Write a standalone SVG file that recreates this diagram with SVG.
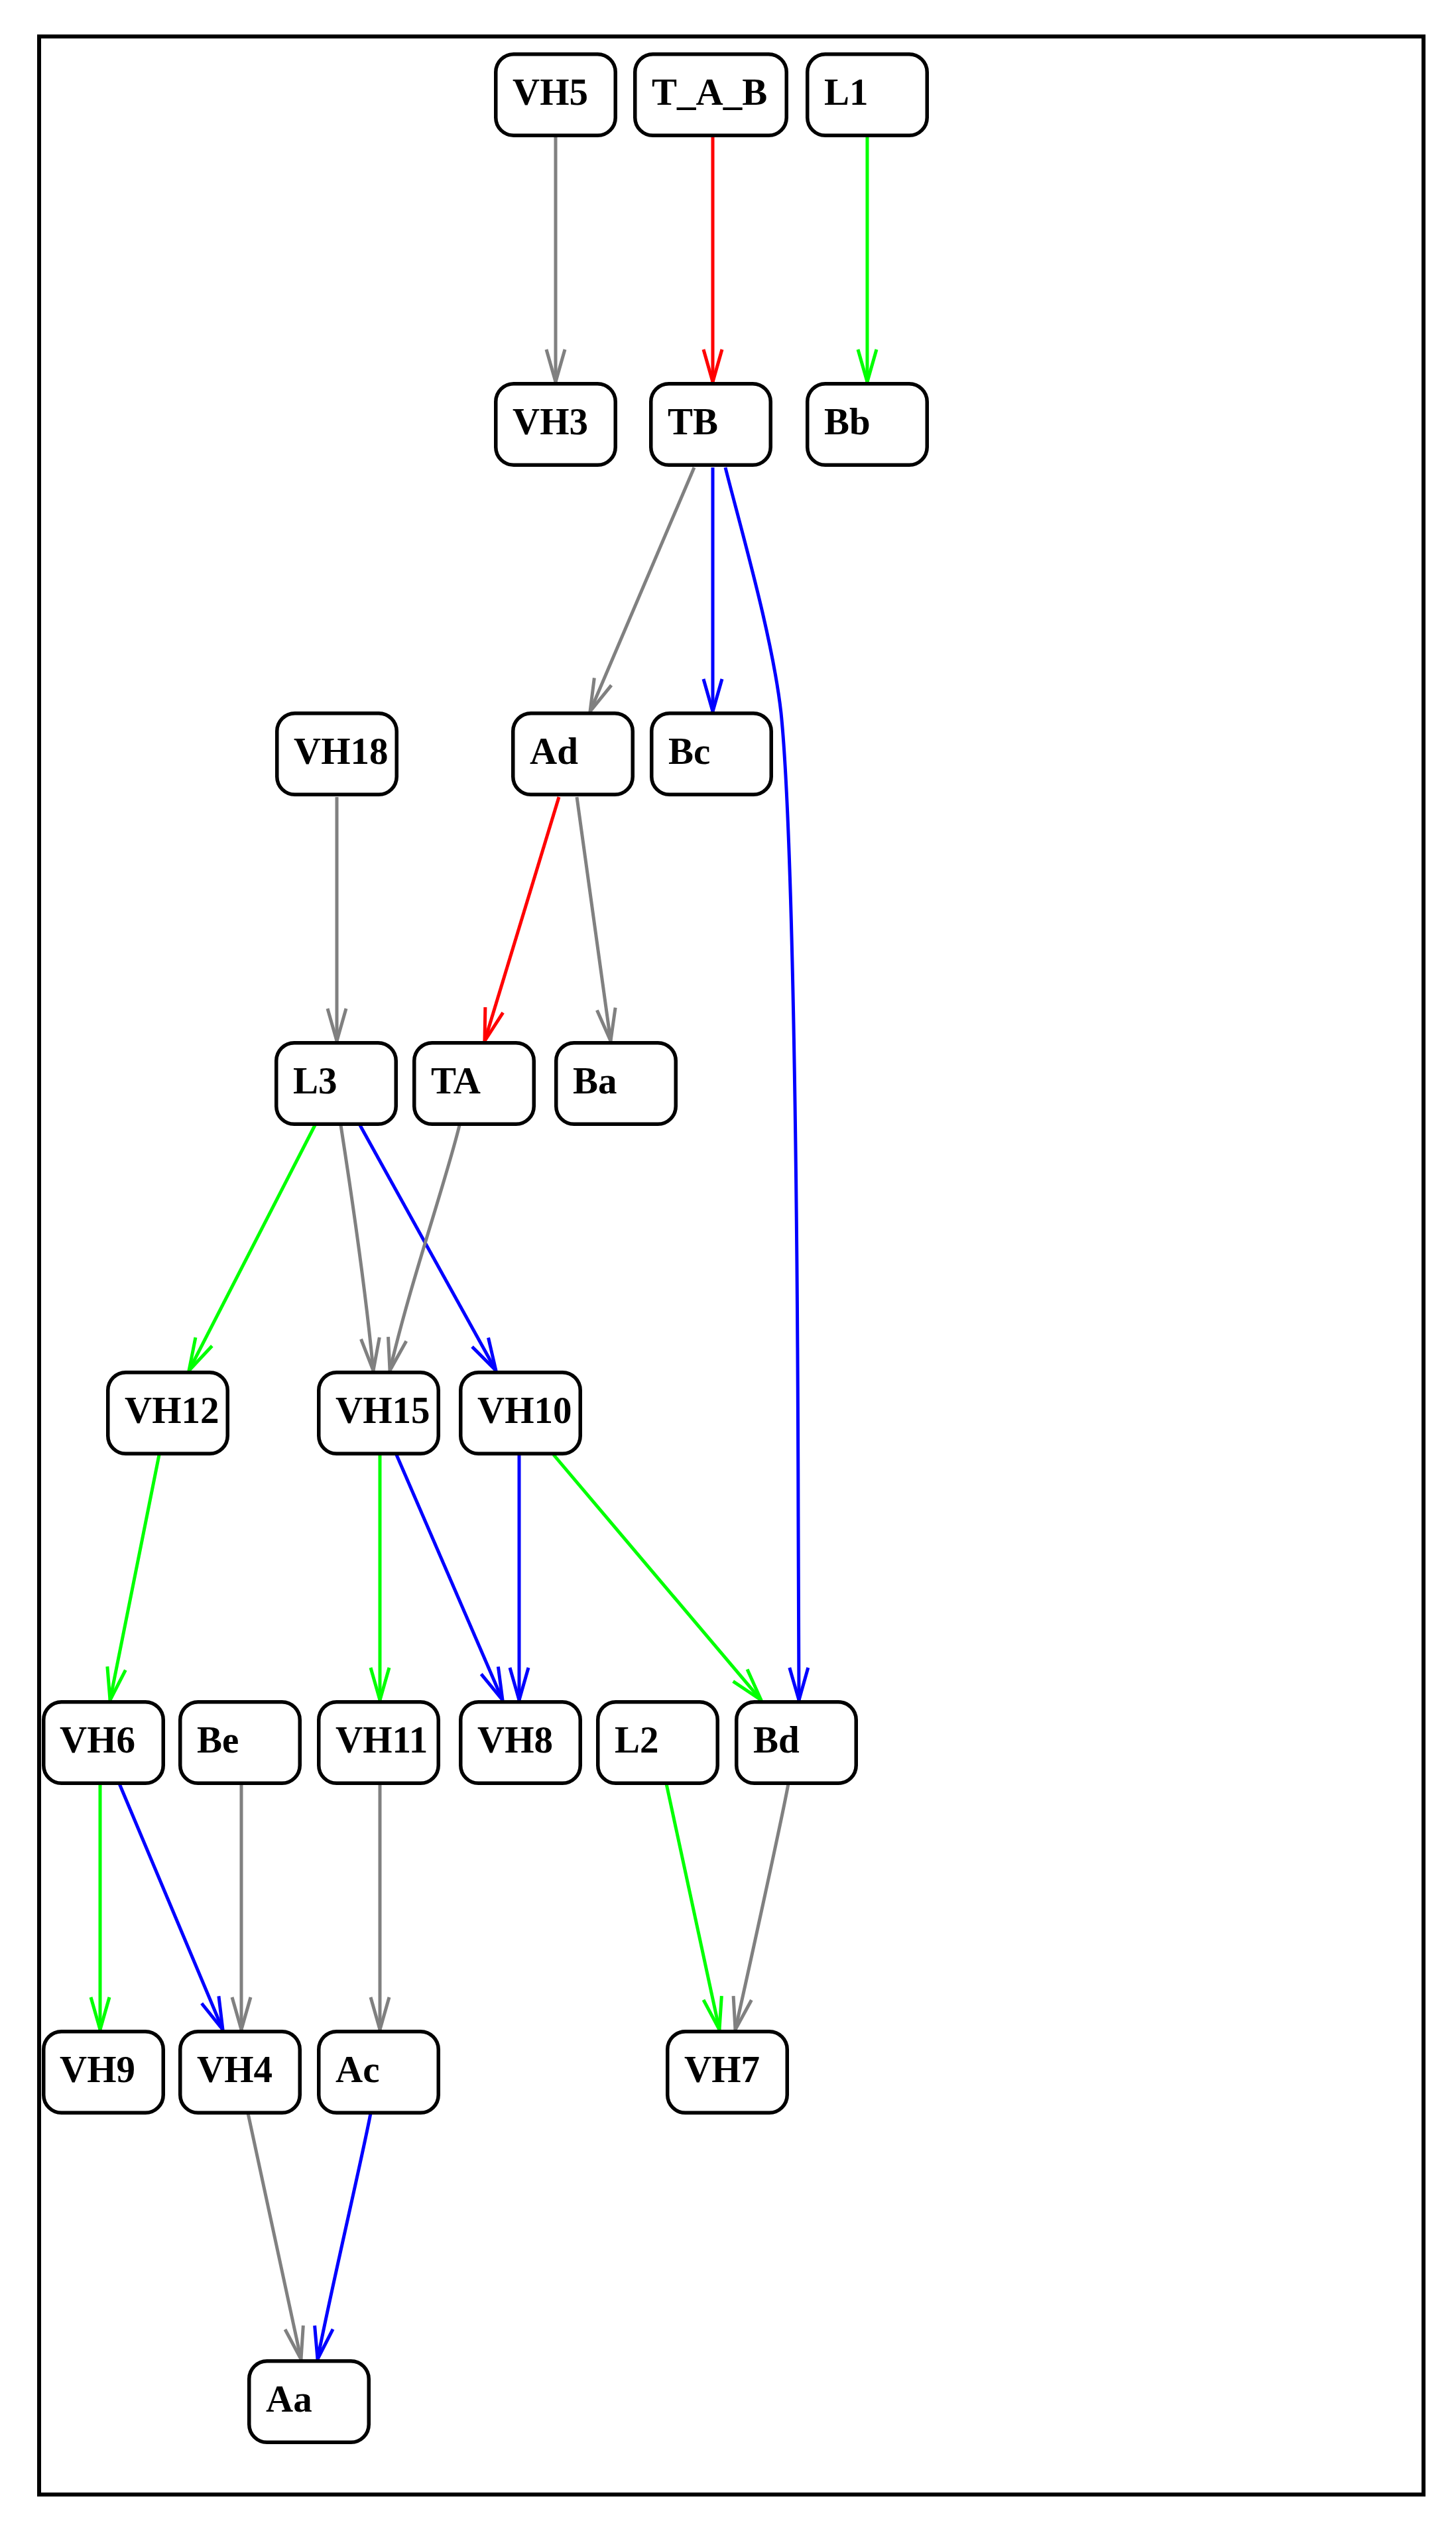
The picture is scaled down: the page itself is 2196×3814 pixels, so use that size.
<svg xmlns="http://www.w3.org/2000/svg" width="2196" height="3814" viewBox="0 0 2196 3814">
<style>
.box{fill:#ffffff;stroke:#000000;stroke-width:5.5}
.lbl{font-family:"Liberation Serif","Times New Roman",serif;font-weight:bold;font-size:57px;fill:#000000}
.e{fill:none;stroke-width:5}
.gray{stroke:#808080}
.red{stroke:#ff0000}
.green{stroke:#00ff00}
.blue{stroke:#0000ff}
marker{overflow:visible}
.ah{fill:none;stroke-width:5;stroke-linejoin:round}
</style>
<defs>
<marker id="a-gray" markerUnits="userSpaceOnUse" markerWidth="60" markerHeight="40" refX="0" refY="0" orient="auto"><path class="ah gray" d="M-49,-14 L0,0 L-49,14"/></marker>
<marker id="a-red" markerUnits="userSpaceOnUse" markerWidth="60" markerHeight="40" refX="0" refY="0" orient="auto"><path class="ah red" d="M-49,-14 L0,0 L-49,14"/></marker>
<marker id="a-green" markerUnits="userSpaceOnUse" markerWidth="60" markerHeight="40" refX="0" refY="0" orient="auto"><path class="ah green" d="M-49,-14 L0,0 L-49,14"/></marker>
<marker id="a-blue" markerUnits="userSpaceOnUse" markerWidth="60" markerHeight="40" refX="0" refY="0" orient="auto"><path class="ah blue" d="M-49,-14 L0,0 L-49,14"/></marker>
</defs>
<rect x="0" y="0" width="2196" height="3814" fill="#ffffff"/>
<rect id="frame" x="59" y="55" width="2088" height="3707" fill="none" stroke="#000000" stroke-width="6"/>

<g id="connectors">
<path class="e gray" marker-end="url(#a-gray)" d="M838,207 L838,576"/>
<path class="e red" marker-end="url(#a-red)" d="M1075,207 L1075,576"/>
<path class="e green" marker-end="url(#a-green)" d="M1308,207 L1308,576"/>
<path class="e gray" marker-end="url(#a-gray)" d="M1047,705 L890,1073"/>
<path class="e blue" marker-end="url(#a-blue)" d="M1075,705 L1075,1073"/>
<path class="e blue" marker-end="url(#a-blue)" d="M1094,705 C1118,800 1165,960 1178,1075 C1196,1250 1203,1800 1204,2300 L1205,2564"/>
<path class="e gray" marker-end="url(#a-gray)" d="M508,1202 L508,1570"/>
<path class="e red" marker-end="url(#a-red)" d="M843,1202 L731,1570"/>
<path class="e gray" marker-end="url(#a-gray)" d="M870,1202 L921,1570"/>
<path class="e green" marker-end="url(#a-green)" d="M475,1697 L285,2067"/>
<path class="e gray" marker-end="url(#a-gray)" d="M514,1697 C530,1800 552,1950 563,2067"/>
<path class="e blue" marker-end="url(#a-blue)" d="M543,1697 L748,2067"/>
<path class="e gray" marker-end="url(#a-gray)" d="M693,1697 C670,1790 620,1930 588,2067"/>
<path class="e green" marker-end="url(#a-green)" d="M240,2194 L166,2564"/>
<path class="e green" marker-end="url(#a-green)" d="M573,2194 L573,2564"/>
<path class="e blue" marker-end="url(#a-blue)" d="M598,2194 L758,2564"/>
<path class="e blue" marker-end="url(#a-blue)" d="M783,2194 L783,2564"/>
<path class="e green" marker-end="url(#a-green)" d="M835,2194 L1148,2564"/>
<path class="e green" marker-end="url(#a-green)" d="M151,2690 L151,3061"/>
<path class="e blue" marker-end="url(#a-blue)" d="M180,2690 L336,3061"/>
<path class="e gray" marker-end="url(#a-gray)" d="M364,2690 L364,3061"/>
<path class="e gray" marker-end="url(#a-gray)" d="M573,2690 L573,3061"/>
<path class="e green" marker-end="url(#a-green)" d="M1005,2690 L1085,3061"/>
<path class="e gray" marker-end="url(#a-gray)" d="M1189,2690 C1180,2740 1125,2990 1109,3061"/>
<path class="e gray" marker-end="url(#a-gray)" d="M374,3187 L454,3558"/>
<path class="e blue" marker-end="url(#a-blue)" d="M559,3187 C545,3260 500,3450 479,3558"/>
</g>

<g id="node-VH5"><rect class="box" x="747.75" y="81.75" width="180.5" height="122.5" rx="27"/><text class="lbl" x="773" y="158">VH5</text></g>
<g id="node-T_A_B"><rect class="box" x="957.75" y="81.75" width="228.5" height="122.5" rx="27"/><text class="lbl" x="983" y="158">T_A_B</text></g>
<g id="node-L1"><rect class="box" x="1217.75" y="81.75" width="180.5" height="122.5" rx="27"/><text class="lbl" x="1243" y="158">L1</text></g>

<g id="node-VH3"><rect class="box" x="747.75" y="578.75" width="180.5" height="122.5" rx="27"/><text class="lbl" x="773" y="655">VH3</text></g>
<g id="node-TB"><rect class="box" x="981.75" y="578.75" width="180.5" height="122.5" rx="27"/><text class="lbl" x="1007" y="655">TB</text></g>
<g id="node-Bb"><rect class="box" x="1217.75" y="578.75" width="180.5" height="122.5" rx="27"/><text class="lbl" x="1243" y="655">Bb</text></g>

<g id="node-VH18"><rect class="box" x="417.75" y="1075.75" width="180.5" height="122.5" rx="27"/><text class="lbl" x="443" y="1152">VH18</text></g>
<g id="node-Ad"><rect class="box" x="773.75" y="1075.75" width="180.5" height="122.5" rx="27"/><text class="lbl" x="799" y="1152">Ad</text></g>
<g id="node-Bc"><rect class="box" x="982.75" y="1075.75" width="180.5" height="122.5" rx="27"/><text class="lbl" x="1008" y="1152">Bc</text></g>

<g id="node-L3"><rect class="box" x="416.75" y="1572.75" width="180.5" height="122.5" rx="27"/><text class="lbl" x="442" y="1649">L3</text></g>
<g id="node-TA"><rect class="box" x="624.75" y="1572.75" width="180.5" height="122.5" rx="27"/><text class="lbl" x="650" y="1649">TA</text></g>
<g id="node-Ba"><rect class="box" x="838.75" y="1572.75" width="180.5" height="122.5" rx="27"/><text class="lbl" x="864" y="1649">Ba</text></g>

<g id="node-VH12"><rect class="box" x="162.75" y="2069.75" width="180.5" height="122.5" rx="27"/><text class="lbl" x="188" y="2146">VH12</text></g>
<g id="node-VH15"><rect class="box" x="480.75" y="2069.75" width="180.5" height="122.5" rx="27"/><text class="lbl" x="506" y="2146">VH15</text></g>
<g id="node-VH10"><rect class="box" x="694.75" y="2069.75" width="180.5" height="122.5" rx="27"/><text class="lbl" x="720" y="2146">VH10</text></g>

<g id="node-VH6"><rect class="box" x="65.75" y="2566.75" width="180.5" height="122.5" rx="27"/><text class="lbl" x="90" y="2643">VH6</text></g>
<g id="node-Be"><rect class="box" x="271.75" y="2566.75" width="180.5" height="122.5" rx="27"/><text class="lbl" x="297" y="2643">Be</text></g>
<g id="node-VH11"><rect class="box" x="480.75" y="2566.75" width="180.5" height="122.5" rx="27"/><text class="lbl" x="506" y="2643">VH11</text></g>
<g id="node-VH8"><rect class="box" x="694.75" y="2566.75" width="180.5" height="122.5" rx="27"/><text class="lbl" x="720" y="2643">VH8</text></g>
<g id="node-L2"><rect class="box" x="901.75" y="2566.75" width="180.5" height="122.5" rx="27"/><text class="lbl" x="927" y="2643">L2</text></g>
<g id="node-Bd"><rect class="box" x="1110.75" y="2566.75" width="180.5" height="122.5" rx="27"/><text class="lbl" x="1136" y="2643">Bd</text></g>

<g id="node-VH9"><rect class="box" x="65.75" y="3063.75" width="180.5" height="122.5" rx="27"/><text class="lbl" x="90" y="3140">VH9</text></g>
<g id="node-VH4"><rect class="box" x="271.75" y="3063.75" width="180.5" height="122.5" rx="27"/><text class="lbl" x="297" y="3140">VH4</text></g>
<g id="node-Ac"><rect class="box" x="480.75" y="3063.75" width="180.5" height="122.5" rx="27"/><text class="lbl" x="506" y="3140">Ac</text></g>
<g id="node-VH7"><rect class="box" x="1006.75" y="3063.75" width="180.5" height="122.5" rx="27"/><text class="lbl" x="1032" y="3140">VH7</text></g>

<g id="node-Aa"><rect class="box" x="375.75" y="3560.75" width="180.5" height="122.5" rx="27"/><text class="lbl" x="401" y="3637">Aa</text></g>
</svg>
